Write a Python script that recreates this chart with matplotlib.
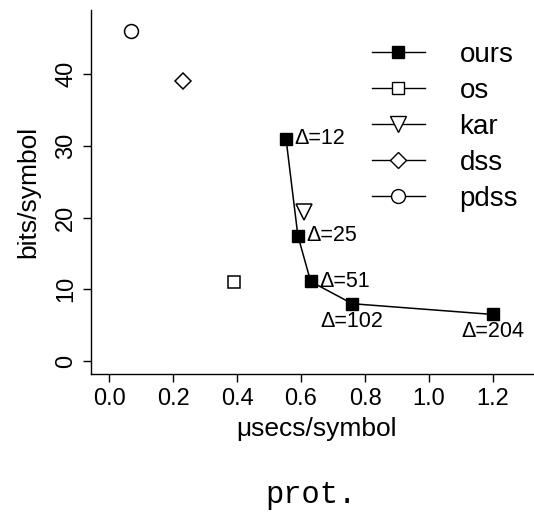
import matplotlib
matplotlib.use("Agg")
import matplotlib.pyplot as plt
from matplotlib.lines import Line2D

plt.rcParams['font.family'] = ['Liberation Sans', 'DejaVu Sans']

# data
ours_x = [0.553, 0.59, 0.63, 0.76, 1.20]
ours_y = [31.0, 17.5, 11.1, 8.0, 6.5]
ours_labels = ["Δ=12", "Δ=25", "Δ=51", "Δ=102", "Δ=204"]
os_x, os_y = [0.39], [11.0]
kar_x, kar_y = [0.61], [20.8]
dss_x, dss_y = [0.23], [39.0]
pdss_x, pdss_y = [0.068], [46.0]
xticks = [0.0, 0.2, 0.4, 0.6, 0.8, 1.0, 1.2]
yticks = [0, 10, 20, 30, 40]

W, H = 534, 514
fig = plt.figure(figsize=(W / 100, H / 100), dpi=100)
ax = fig.add_axes([91 / W, 1 - 374 / H, (W - 91) / W, (374 - 10) / H])

ax.plot(ours_x, ours_y, color='black', lw=1.1, marker='s', ms=9,
        mfc='black', mec='black')
ax.plot(os_x, os_y, ls='none', marker='s', ms=9, mfc='white', mec='black', mew=1.1)
ax.plot(kar_x, kar_y, ls='none', marker='v', ms=11, mfc='white', mec='black', mew=1.1)
ax.plot(dss_x, dss_y, ls='none', marker='D', ms=8.5, mfc='white', mec='black', mew=1.1)
ax.plot(pdss_x, pdss_y, ls='none', marker='o', ms=10, mfc='white', mec='black', mew=1.1)

for i, (x, y, t) in enumerate(zip(ours_x, ours_y, ours_labels)):
    if i < 3:
        ax.annotate(t, (x, y), xytext=(6, 0), textcoords='offset points',
                    ha='left', va='center', fontsize=15.5)
    else:
        ax.annotate(t, (x, y), xytext=(0, -5), textcoords='offset points',
                    ha='center', va='top', fontsize=15.5)

ax.set_xlim(-0.0565, 1.328)
ax.set_ylim(-1.8, 48.95)
ax.set_xticks(xticks)
ax.set_xticklabels([f"{v:.1f}" for v in xticks])
ax.set_yticks(yticks)
ax.set_yticklabels([str(v) for v in yticks])
ax.tick_params(axis='both', direction='out', length=6, width=1, labelsize=17)
ax.tick_params(axis='x', pad=4)
ax.tick_params(axis='y', pad=4, labelrotation=90)
for lbl in ax.get_yticklabels():
    lbl.set_va('center')
for s in ['top', 'right']:
    ax.spines[s].set_visible(False)
for s in ['left', 'bottom']:
    ax.spines[s].set_linewidth(1)

fig.text(28 / W, 1 - 192 / H, "bits/symbol", rotation=90, ha='center', va='center', fontsize=19)
fig.text(317 / W, 1 - 429 / H, "μsecs/symbol", ha='center', va='center', fontsize=19)
fig.text(311 / W, 1 - 495 / H, "prot.", ha='center', va='center', fontsize=22,
         family='Liberation Mono')

handles = [
    Line2D([], [], color='black', lw=1, marker='s', ms=9, mfc='black', mec='black'),
    Line2D([], [], color='black', lw=1, marker='s', ms=9, mfc='white', mec='black'),
    Line2D([], [], color='black', lw=1, marker='v', ms=11, mfc='white', mec='black'),
    Line2D([], [], color='black', lw=1, marker='D', ms=8.5, mfc='white', mec='black'),
    Line2D([], [], color='black', lw=1, marker='o', ms=10, mfc='white', mec='black'),
]
names = ["ours", "os", "kar", "dss", "pdss"]
fig.legend(handles, names, loc='upper left', bbox_to_anchor=(372 / W, 1 - 42 / H),
           frameon=False, fontsize=20, handlelength=1.9, handletextpad=1.25,
           labelspacing=0.36, borderpad=0, borderaxespad=0)

fig.savefig("out.png", dpi=100)
